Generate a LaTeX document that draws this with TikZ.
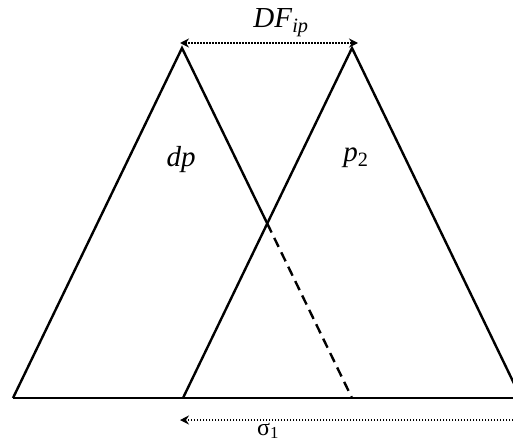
\documentclass[tikz,border=0pt]{standalone}
\usepackage{fontspec}
\setmainfont{Liberation Serif}
\usepackage{tikz}
\usetikzlibrary{arrows.meta,positioning,calc}
\definecolor{linecol}{RGB}{0,0,0}
\tikzset{
  edge/.style={draw=linecol, line width=2.4pt, line join=miter},
  dashedge/.style={draw=linecol, line width=2.4pt, dash pattern=on 10pt off 6pt},
  dimline/.style={draw=linecol, line width=2.2pt, dash pattern=on 1.5pt off 1.5pt},
  tip/.style={-{Stealth[length=9pt,width=9pt,inset=3pt]}},
  tips/.style={{Stealth[length=9pt,width=9pt,inset=3pt]}-{Stealth[length=9pt,width=9pt,inset=3pt]}},
  lbl/.style={font=\fontsize{29}{32}\selectfont, inner sep=0pt}
}

\begin{document}
\begin{tikzpicture}[x=1pt,y=-1pt]
  \useasboundingbox (0,0) rectangle (513,444);
  \clip (0,0) rectangle (513,444);
  % corners of the two triangles
  \coordinate (dpL) at (13,398);
  \coordinate (dpA) at (182,48);
  \coordinate (dpR) at (352,398);
  \coordinate (ptL) at (183,398);
  \coordinate (ptA) at (352,48);
  \coordinate (ptR) at (521,398);
  \coordinate (baseR) at (520,398);
  \coordinate (cross) at (intersection of dpA--dpR and ptL--ptA);
  % triangles
  \draw[edge] (dpL) -- (dpA) -- (cross);
  \draw[dashedge] (cross) -- (dpR);
  \draw[edge] (ptL) -- (ptA) -- (ptR);
  \draw[edge] (dpL) -- (baseR);
  % distances
  \coordinate (dfL) at (180,43);
  \coordinate (dfR) at (358,43);
  \draw[dimline, tips] (dfL) -- (dfR);
  \coordinate (sgR) at (516,420);
  \coordinate (sgL) at (180,420);
  \draw[dimline, tip] (sgR) -- (sgL);
  % labels
  \node[lbl] (df) at (281,23) {\textit{DF}\textsubscript{\textit{ip}}};
  \node[lbl, font=\fontsize{24}{26}\selectfont, anchor=south] (sigma) at (268,439) {σ\textsubscript{1}};
  \node[lbl] (dp) at (181,160) {\textit{dp}};
  \node[lbl] (p2) at (356,158) {\textit{p}\textsubscript{2}};
\end{tikzpicture}
\end{document}
